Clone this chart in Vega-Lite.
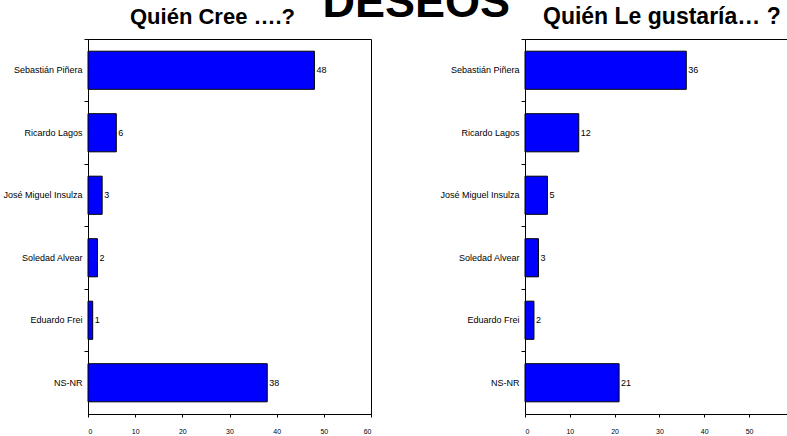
{
  "$schema": "https://vega.github.io/schema/vega-lite/v6.json",
  "background": "white",
  "padding": {"left": 2, "top": -19, "right": 0, "bottom": 0},
  "title": {
    "text": "DESEOS",
    "font": "Liberation Sans",
    "fontSize": 45,
    "fontWeight": "bold",
    "color": "black",
    "anchor": "start",
    "frame": "bounds",
    "baseline": "alphabetic",
    "offset": -57,
    "dx": 320
  },
  "datasets": {
    "cree": [
      {"candidato": "Sebastián Piñera", "valor": 48},
      {"candidato": "Ricardo Lagos", "valor": 6},
      {"candidato": "José Miguel Insulza", "valor": 3},
      {"candidato": "Soledad Alvear", "valor": 2},
      {"candidato": "Eduardo Frei", "valor": 1},
      {"candidato": "NS-NR", "valor": 38}
    ],
    "gusta": [
      {"candidato": "Sebastián Piñera", "valor": 36},
      {"candidato": "Ricardo Lagos", "valor": 12},
      {"candidato": "José Miguel Insulza", "valor": 5},
      {"candidato": "Soledad Alvear", "valor": 3},
      {"candidato": "Eduardo Frei", "valor": 2},
      {"candidato": "NS-NR", "valor": 21}
    ]
  },
  "config": {
    "view": {"stroke": "black", "strokeWidth": 1},
    "axis": {
      "grid": false,
      "title": null,
      "domainColor": "black",
      "tickColor": "black",
      "labelColor": "black",
      "labelFont": "Liberation Sans",
      "domainWidth": 1,
      "tickWidth": 1
    },
    "axisY": {"tickSize": 4, "labelPadding": 2, "labelFontSize": 9, "bandPosition": 0},
    "axisX": {"tickSize": 3, "labelPadding": 10, "labelFontSize": 7},
    "title": {"font": "Liberation Sans", "fontSize": 22, "fontWeight": "bold", "color": "black", "baseline": "alphabetic", "offset": 10, "anchor": "start", "frame": "group"}
  },
  "bounds": "flush",
  "spacing": 154,
  "hconcat": [
    {
      "width": 283,
      "height": 375,
      "title": {"text": "Quién Cree ….?", "dx": 42},
      "data": {"name": "cree"},
      "encoding": {
        "y": {"field": "candidato", "type": "nominal", "sort": null, "scale": {"paddingInner": 0, "paddingOuter": 0}},
        "x": {"field": "valor", "type": "quantitative", "scale": {"domain": [0, 60], "nice": false}, "axis": {"values": [0, 10, 20, 30, 40, 50, 60]}}
      },
      "layer": [
        {"mark": {"type": "bar", "fill": "#0000FF", "stroke": "black", "strokeWidth": 1, "height": {"band": 0.61}}},
        {"mark": {"type": "text", "align": "left", "baseline": "middle", "dx": 2, "fontSize": 9, "font": "Liberation Sans", "color": "black"}, "encoding": {"text": {"field": "valor", "type": "quantitative"}}}
      ]
    },
    {
      "width": 263,
      "height": 375,
      "view": {"stroke": null},
      "title": {"text": "Quién Le gustaría… ?", "dx": 18, "fontSize": 23},
      "data": {"name": "gusta"},
      "encoding": {
        "y": {"field": "candidato", "type": "nominal", "sort": null, "scale": {"paddingInner": 0, "paddingOuter": 0}},
        "x": {"field": "valor", "type": "quantitative", "scale": {"domain": [0, 58.7], "nice": false}, "axis": {"values": [0, 10, 20, 30, 40, 50]}}
      },
      "layer": [
        {"mark": {"type": "bar", "fill": "#0000FF", "stroke": "black", "strokeWidth": 1, "height": {"band": 0.61}}},
        {
          "mark": {"type": "text", "align": "left", "baseline": "middle", "dx": 2, "fontSize": 9, "font": "Liberation Sans", "color": "black"},
          "encoding": {
            "text": {"field": "valor", "type": "quantitative"},
            "x": {"field": "valor", "type": "quantitative", "axis": {"orient": "top", "labels": false, "ticks": false, "domain": true, "title": null}}
          }
        }
      ],
      "resolve": {"axis": {"x": "independent"}}
    }
  ]
}
